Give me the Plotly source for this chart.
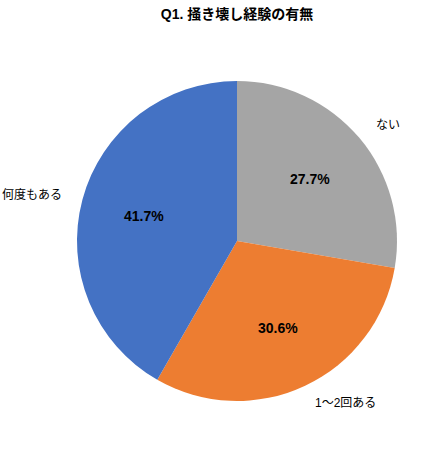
import math
import plotly.graph_objects as go

categories = ["ない", "1〜2回ある", "何度もある"]
values = [27.7, 30.6, 41.7]
colors = ["#A5A5A5", "#ED7D31", "#4472C4"]
title_text = "Q1. 掻き壊し経験の有無"

L, R, T, B = 77, 49, 81, 49

fig = go.Figure(go.Pie(
    labels=categories,
    values=values,
    sort=False,
    direction="clockwise",
    rotation=0,
    marker=dict(colors=colors, line=dict(width=0)),
    textinfo="none",
    hoverinfo="label+percent",
    showlegend=False,
    domain=dict(x=[0, 1], y=[0, 1]),
))

# Category labels outside and percentage labels inside, positioned from slice angles
total = sum(values)
cum = 0.0
annotations = []
for cat, v in zip(categories, values):
    mid = (cum + v / 2) / total * 2 * math.pi
    cum += v
    sx, cy = math.sin(mid), math.cos(mid)
    # outside category label
    f = 1.12
    anchor = "left" if sx > 0.05 else ("right" if sx < -0.05 else "center")
    annotations.append(dict(
        x=0.5 + 0.5 * f * sx, y=0.5 + 0.5 * f * cy, xref="paper", yref="paper",
        text=cat, showarrow=False, xanchor=anchor, yanchor="middle",
        font=dict(family="Liberation Sans, Noto Sans CJK JP", size=12, color="#000000"),
    ))
    # inside percentage label
    fi = 0.6
    annotations.append(dict(
        x=0.5 + 0.5 * fi * sx, y=0.5 + 0.5 * fi * cy, xref="paper", yref="paper",
        text=f"{v:.1f}%", showarrow=False, xanchor="center", yanchor="middle",
        font=dict(family="Liberation Sans, Arial", size=14, color="#000000", weight="bold"),
    ))

fig.update_layout(
    width=446, height=450,
    margin=dict(l=L, r=R, t=T, b=B),
    paper_bgcolor="#FFFFFF",
    plot_bgcolor="#FFFFFF",
    title=dict(text=title_text, x=0.5, xref="paper", y=1 - 14 / 450, yanchor="middle",
               font=dict(family="Liberation Sans, Noto Sans CJK JP", size=14, color="#000000", weight="bold")),
    annotations=annotations,
)

fig.write_html("out.html", config={"displayModeBar": False},
               post_script="document.body.style.margin='0';document.body.style.padding='0';")
